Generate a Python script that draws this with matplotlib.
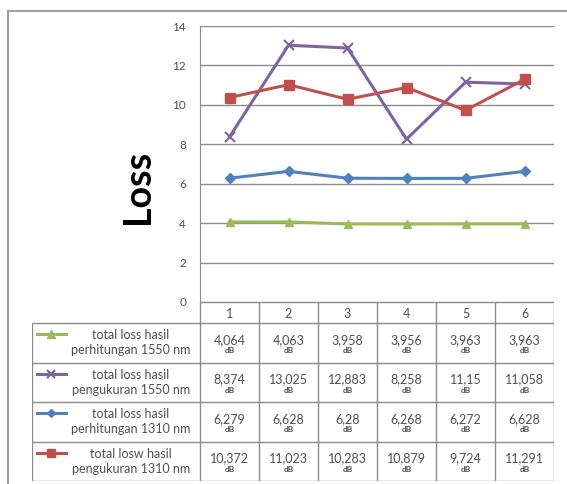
import matplotlib
matplotlib.use("Agg")
from matplotlib import pyplot as plt
from matplotlib.lines import Line2D

plt.rcParams['font.family'] = ['Lato', 'DejaVu Sans']

CATEGORIES = [1, 2, 3, 4, 5, 6]
Y_TICKS = [0, 2, 4, 6, 8, 10, 12, 14]

SERIES_NAMES = [
    'total loss hasil\nperhitungan 1550 nm',
    'total loss hasil\npengukuran 1550 nm',
    'total loss hasil\nperhitungan 1310 nm',
    'total losw hasil\npengukuran 1310 nm',
]
HITUNG_1550 = [4.064, 4.063, 3.958, 3.956, 3.963, 3.963]
UKUR_1550 = [8.374, 13.025, 12.883, 8.258, 11.15, 11.058]
HITUNG_1310 = [6.279, 6.628, 6.28, 6.268, 6.272, 6.628]
UKUR_1310 = [10.372, 11.023, 10.283, 10.879, 9.724, 11.291]
UNIT = 'dB'

COLORS = ['#9BBB59', '#8064A2', '#4F81BD', '#C0504D']
MARKERS = ['^', 'x', 'D', 's']
MSIZES = [6, 7, 5, 7]

W, H = 567, 484
GRID = '#8c8c8c'
TXT = '#505050'


def frac(x0, y0, x1, y1):
    return [x0 / W, 1 - y1 / H, (x1 - x0) / W, (y1 - y0) / H]


def fmt(v):
    return str(v).replace('.', ',')


def main():
    fig = plt.figure(figsize=(W / 100, H / 100), dpi=100)
    fig.patch.set_facecolor('white')

    # outer chart frame (top and left edges visible)
    fig.add_artist(Line2D([8 / W, 1], [1 - 11 / H, 1 - 11 / H],
                          transform=fig.transFigure, color='#a0a0a0', lw=1.5))
    fig.add_artist(Line2D([8 / W, 8 / W], [0, 1 - 11 / H],
                          transform=fig.transFigure, color='#a0a0a0', lw=1.5))

    series = [HITUNG_1550, UKUR_1550, HITUNG_1310, UKUR_1310]

    ax = fig.add_axes(frac(200, 26, 554, 302))
    ax.set_xlim(0.5, 6.5)
    ax.set_ylim(0, 14)
    ax.set_yticks(Y_TICKS)
    ax.set_xticks([])
    ax.tick_params(axis='y', length=0, pad=10, labelsize=8.5, labelcolor=TXT)
    ax.grid(axis='y', color=GRID, lw=1)
    ax.set_axisbelow(True)
    for side in ['top', 'right', 'bottom']:
        ax.spines[side].set_visible(False)
    ax.spines['left'].set_color(GRID)
    for vals, c, m, ms in zip(series, COLORS, MARKERS, MSIZES):
        ax.plot(CATEGORIES, vals, color=c, lw=2.2, marker=m, ms=ms,
                mew=1.5 if m == 'x' else 1, zorder=3)

    fig.text(138 / W, 1 - 187 / H, 'Loss', rotation=90, ha='center',
             va='center', fontsize=27, fontweight='bold', color='black')

    # data table under the plot, columns share the category scale
    tb = fig.add_axes(frac(32, 302, 554, 481))
    left = 0.5 - (200 - 32) / 59
    tb.set_xlim(left, 6.5)
    head = 21
    row_h = (481 - 302 - head) / 4
    tb.set_ylim(head + 4 * row_h, 0)
    tb.axis('off')

    edges = [c - 0.5 for c in CATEGORIES] + [6.5]
    tb.hlines(0, 0.5, 6.5, color=GRID, lw=1)
    for r in range(5):
        tb.hlines(head + r * row_h, left, 6.5, color=GRID, lw=1)
    for e in edges:
        tb.vlines(e, 0, head + 4 * row_h, color=GRID, lw=1)
    tb.vlines(left, head, head + 4 * row_h, color=GRID, lw=1)

    for c in CATEGORIES:
        tb.text(c, head / 2 + 1, str(c), ha='center', va='center',
                fontsize=9, color=TXT)

    for r, (name, vals, col, m, ms) in enumerate(
            zip(SERIES_NAMES, series, COLORS, MARKERS, MSIZES)):
        y0 = head + r * row_h
        key_y = y0 + 11
        tb.plot([left + 0.09, left + 0.57], [key_y, key_y], color=col, lw=2.2)
        tb.plot([left + 0.33], [key_y], color=col, marker=m, ms=ms * 0.9,
                mew=1.5 if m == 'x' else 1)
        tb.text(left + 1.68, y0 + row_h / 2, name, ha='center', va='center',
                fontsize=9, color=TXT, linespacing=1.3,
                multialignment='center')
        for c, v in zip(CATEGORIES, vals):
            tb.text(c, y0 + row_h / 2 - 3, fmt(v), ha='center', va='center',
                    fontsize=9, color=TXT)
            tb.text(c, y0 + row_h / 2 + 8, UNIT, ha='center', va='center',
                    fontsize=6, fontweight='bold', color=TXT)

    fig.savefig('out.png', dpi=100)


if __name__ == '__main__':
    main()
